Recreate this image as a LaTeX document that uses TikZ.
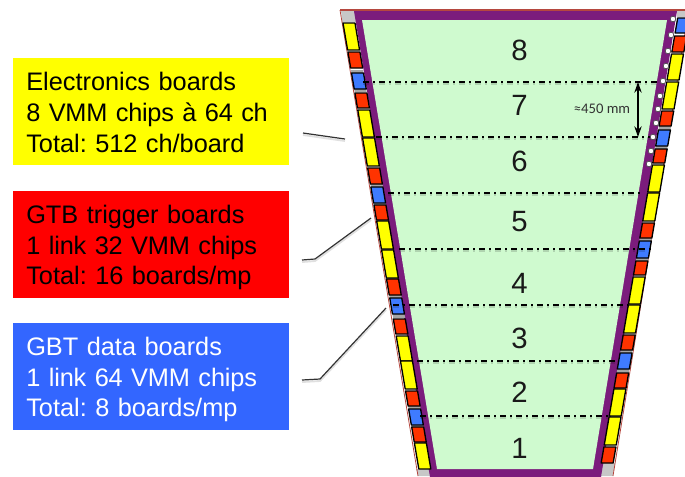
\documentclass[tikz,border=0pt]{standalone}
\usepackage{fontspec}
\usetikzlibrary{arrows.meta}
\setmainfont{Liberation Sans}
\newfontfamily\smallfont{Carlito}
\definecolor{pur}{HTML}{7B1C7C}
\definecolor{grn}{HTML}{CFFACF}
\definecolor{byel}{HTML}{FFFF00}
\definecolor{bred}{HTML}{FF3300}
\definecolor{bblu}{HTML}{3F7BFF}
\definecolor{boxblue}{HTML}{3366FF}
\definecolor{rim}{HTML}{B5473F}
\frenchspacing
\newcommand{\tightA}{\addfontfeature{LetterSpace=-1}}
\newcommand{\tightB}{\addfontfeature{LetterSpace=-0.6}}
\tikzset{
  x=0.75pt,y=-0.75pt,
  infobox/.style={draw=none,minimum width=207pt,minimum height=80pt,inner sep=0pt,anchor=north west,
    text width=187.5pt,align=left,font=\fontsize{19}{22.9}\selectfont},
  zonelabel/.style={font=\fontsize{22}{24}\selectfont,text=black!90},
  zoneline/.style={line width=1.1pt,dash pattern=on 4.5pt off 3pt on 1.5pt off 3pt,black},
  zoneshade/.style={line width=1.6pt,dash pattern=on 4.5pt off 3pt on 1.5pt off 3pt,black,opacity=0.15},
  board/.style={draw=black,line width=1pt,line join=round},
  leader/.style={line width=0.9pt,black!80},
  leadershade/.style={line width=1.4pt,black,opacity=0.12},
  boltdot/.style={circle,draw=black!70,fill=white,line width=0.5pt,inner sep=0pt,minimum size=4.2pt}
}
\newcommand{\lboard}[3]{%
  \pgfmathsetmacro{\xa}{355+0.17*(#1-23)}\pgfmathsetmacro{\xb}{355+0.17*(#2-23)}%
  \draw[board,fill=#3] (\xa,#1)--(\xa-12,#1)--(\xb-12,#2)--(\xb,#2)--cycle;}
\newcommand{\rboard}[3]{%
  \pgfmathsetmacro{\xa}{671.5-0.172*(#1-54)}\pgfmathsetmacro{\xb}{671.5-0.172*(#2-54)}%
  \draw[board,fill=#3] (\xa,#1)--(\xa+12,#1)--(\xb+12,#2)--(\xb,#2)--cycle;}
\newcommand{\lspacer}[2]{%
  \pgfmathsetmacro{\xa}{355+0.17*(#1-23)}\pgfmathsetmacro{\xb}{355+0.17*(#2-23)}%
  \fill[black!35] (\xa,#1)--(\xa-12,#1)--(\xb-12,#2)--(\xb,#2)--cycle;}
\newcommand{\rspacer}[2]{%
  \pgfmathsetmacro{\xa}{671.5-0.172*(#1-54)}\pgfmathsetmacro{\xb}{671.5-0.172*(#2-54)}%
  \fill[black!35] (\xa,#1)--(\xa+12,#1)--(\xb+12,#2)--(\xb,#2)--cycle;}
\begin{document}
\begin{tikzpicture}
\useasboundingbox (0,0) rectangle (685,476);
% rim
\fill[black!22] (341,10) -- (356,10) -- (356,22) -- (342,22) -- cycle;
\fill[black!22] (677,10) -- (685,10) -- (685,17) -- (677,17) -- cycle;
\fill[black!22] (416,469) -- (432,469) -- (432,476) -- (418,476) -- cycle;
\fill[black!22] (601,463) -- (615,463) -- (613,476) -- (600,476) -- cycle;
\draw[rim,line width=0.8pt] (340,10) -- (685,10);
\draw[rim,line width=0.6pt] (340,10) -- (418,476);
\draw[rim,line width=0.6pt] (685,33) -- (613,476);
% module
\fill[pur] (354,11) -- (677,11) -- (601,477) -- (430,477) -- cycle;
\fill[grn] (362,20) -- (667,20) -- (593,469) -- (437,469) -- cycle;
% left boards
\foreach \a/\b in {70/92,184/206,295/318,406/427}{\lspacer{\a}{\b}}
\foreach \a/\b/\c in {23/50/byel,52/68/bred,73/89/bblu,93/108/bred,110/137/byel,138/166/byel,
  168/184/bred,187/203/bblu,205/220/bred,221/249/byel,250/278/byel,279/295/bred,298/314/bblu,
  319/334/bred,336/361/byel,361/389/byel,391/406/bred,409/425/bblu,427/442/bred,443/469/byel}{\lboard{\a}{\b}{\c}}
% right boards
\foreach \a/\b in {126/149,238/261,350/373}{\rspacer{\a}{\b}}
\foreach \a/\b/\c in {18/33/bblu,36/52/bred,54/80/byel,82/109/byel,111/126/bred,130/146/bblu,149/163/bred,
  165/192/byel,193/221/byel,223/238/bred,241/258/bblu,261/275/bred,277/304/byel,305/333/byel,
  335/350/bred,353/369/bblu,373/388/bred,389/416/byel,417/445/byel,447/463/bred}{\rboard{\a}{\b}{\c}}
% zone lines
\coordinate (z1l) at (363,82);  \coordinate (z1r) at (657,82);
\coordinate (z2l) at (376,137); \coordinate (z2r) at (654,137);
\coordinate (z3l) at (388,193); \coordinate (z3r) at (644,193);
\coordinate (z4l) at (399,249); \coordinate (z4r) at (653,249);
\coordinate (z5l) at (393,305); \coordinate (z5r) at (628,305);
\coordinate (z6l) at (417,361); \coordinate (z6r) at (618,361);
\coordinate (z7l) at (420,416); \coordinate (z7r) at (608,416);
\foreach \i in {1,...,7}{
  \draw[zoneshade] ([yshift=-1.5pt]z\i l) -- ([yshift=-1.5pt]z\i r);
  \draw[zoneline] (z\i l) -- (z\i r);}
% dimension
\coordinate (dimt) at (638,82); \coordinate (dimb) at (638,137);
\draw[black,line width=1pt,{Stealth[length=8pt,width=5.5pt]}-{Stealth[length=8pt,width=5.5pt]}] (dimt) -- (dimb);
\node[font=\smallfont\fontsize{11}{12}\selectfont,text=black!80] (dimlabel) at (602,109) {≈450 mm};
% dots
\foreach \i/\x/\y in {1/673/19,2/671/35,3/668/51,4/666/66,5/663/81,6/660/96,7/658/109,8/656/123,9/653/137,10/651/151,11/649/164}{
  \node[boltdot] (dot\i) at (\x,\y) {};}
% zone numbers
\foreach \n/\y in {8/50,7/105,6/161,5/222,4/283,3/338,2/392,1/448}{
  \node[zonelabel] (zone\n) at (519.5,\y) {\n};}
% info boxes
\node[infobox,fill=byel,text=black] (elec) at (13,58) {\rule{0pt}{15pt}Electronics boards\\{\tightA 8 VMM chips à 64 ch}\\Total: 512 ch/board};
\node[infobox,fill=red,text=black] (gtb) at (13,191) {\rule{0pt}{18.5pt}GTB trigger boards\\{\tightB 1 link 32 VMM chips}\\Total: 16 boards/mp};
\node[infobox,fill=boxblue,text=white] (gbt) at (13,323) {\rule{0pt}{18.5pt}GBT data boards\\{\tightB 1 link 64 VMM chips}\\Total: 8 boards/mp};
% leaders
\coordinate (e1) at (303,133); \coordinate (e2) at (345,139);
\draw[leadershade] ([yshift=-1.5pt]e1) -- ([yshift=-1.5pt]e2);
\draw[leader] (e1) -- (e2);
\coordinate (r1) at (302,260); \coordinate (r2) at (315,259); \coordinate (r3) at (371,218);
\draw[leadershade] ([yshift=-1.5pt]r1) -- ([yshift=-1.5pt]r2) -- ([yshift=-1.5pt]r3);
\draw[leader] (r1) -- (r2) -- (r3);
\coordinate (b1) at (302,380); \coordinate (b2) at (320,379); \coordinate (b3) at (386,308);
\draw[leadershade] ([yshift=-1.5pt]b1) -- ([yshift=-1.5pt]b2) -- ([yshift=-1.5pt]b3);
\draw[leader] (b1) -- (b2) -- (b3);
\end{tikzpicture}
\end{document}
